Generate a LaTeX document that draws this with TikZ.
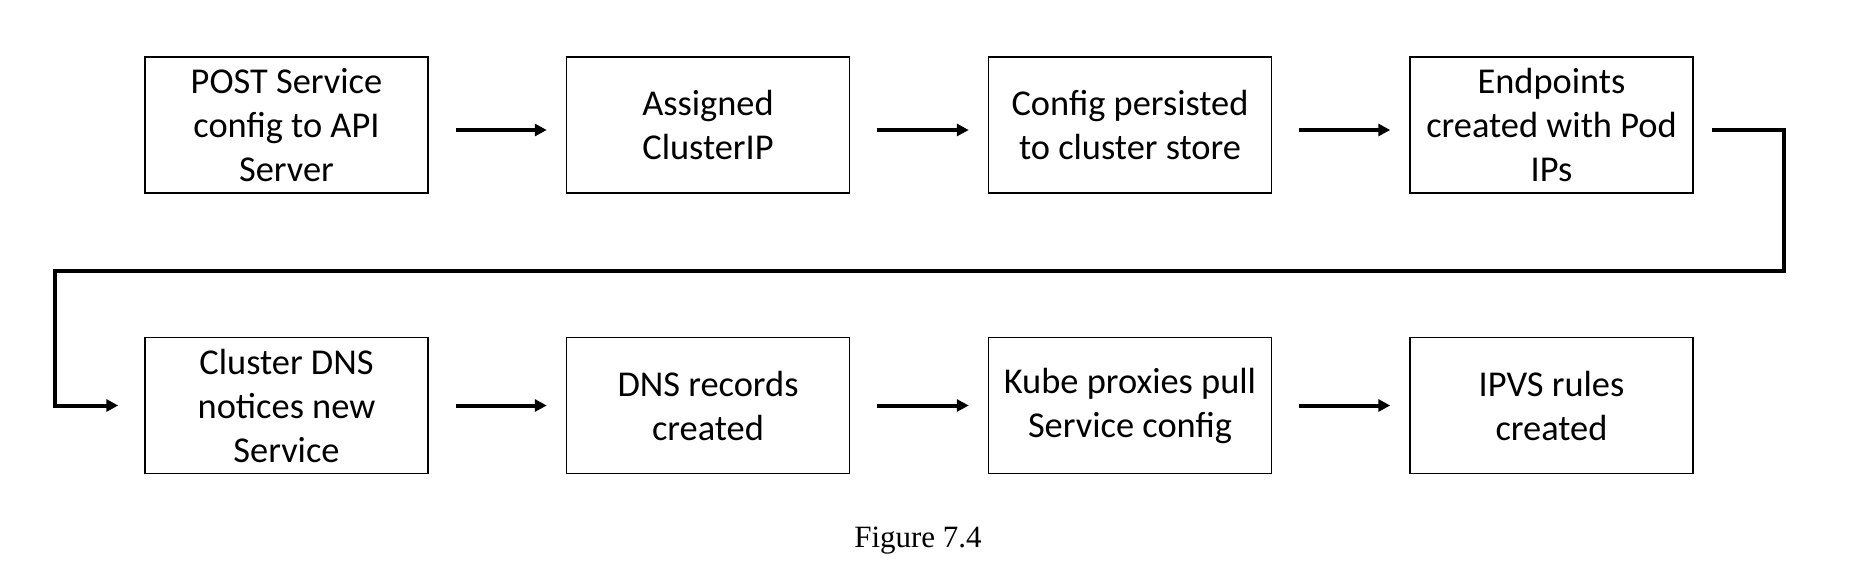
\documentclass[tikz,border=0pt]{standalone}
\usepackage{fontspec}
\setmainfont{Carlito}
\newfontfamily\captionfont{Liberation Serif}
\usetikzlibrary{arrows.meta,positioning}
\tikzset{
  stepbox/.style={draw,line width=0.75pt,minimum width=141.5pt,minimum height=68pt,
    align=center,inner sep=0pt,font=\fontsize{18.2}{22}\selectfont},
  flow/.style={line width=2pt,-{Triangle[length=6pt,width=6pt]}},
}
\begin{document}
\begin{tikzpicture}[x=0.5pt,y=-0.5pt]
\useasboundingbox (0,0) rectangle (1869,584);
% top row
\node[stepbox] (post) at (286.5,125) {POST Service\\config to API\\Server};
\node[stepbox] (cip) at (708,125) {Assigned\\ClusterIP};
\node[stepbox] (store) at (1130,125) {Config persisted\\to cluster store};
\node[stepbox] (endp) at (1551.5,125) {Endpoints\\created with Pod\\IPs};
% bottom row
\node[stepbox] (cdns) at (286.5,405.5) {Cluster DNS\\notices new\\Service};
\node[stepbox] (rec) at (708,405.5) {DNS records\\created};
\node[stepbox] (kube) at (1130,405.5) {Kube proxies pull\\Service config};
\node[stepbox] (ipvs) at (1551.5,405.5) {IPVS rules\\created};
% arrows
\draw[flow] ([xshift=13.5pt,yshift=-2.5pt]post.east) -- ([xshift=-9.5pt,yshift=-2.5pt]cip.west);
\draw[flow] ([xshift=13.5pt,yshift=-2.5pt]cip.east) -- ([xshift=-9.5pt,yshift=-2.5pt]store.west);
\draw[flow] ([xshift=13.5pt,yshift=-2.5pt]store.east) -- ([xshift=-9.5pt,yshift=-2.5pt]endp.west);
\draw[flow] ([xshift=9pt,yshift=-2.5pt]endp.east) -| (1784,271) -| (55,405.5) -- ([xshift=-13pt]cdns.west);
\draw[flow] ([xshift=13.5pt]cdns.east) -- ([xshift=-9.5pt]rec.west);
\draw[flow] ([xshift=13.5pt]rec.east) -- ([xshift=-9.5pt]kube.west);
\draw[flow] ([xshift=13.5pt]kube.east) -- ([xshift=-9.5pt]ipvs.west);
\node[font=\captionfont\fontsize{15.5}{18}\selectfont] (cap) at (918,541) {Figure 7.4};
\end{tikzpicture}
\end{document}
